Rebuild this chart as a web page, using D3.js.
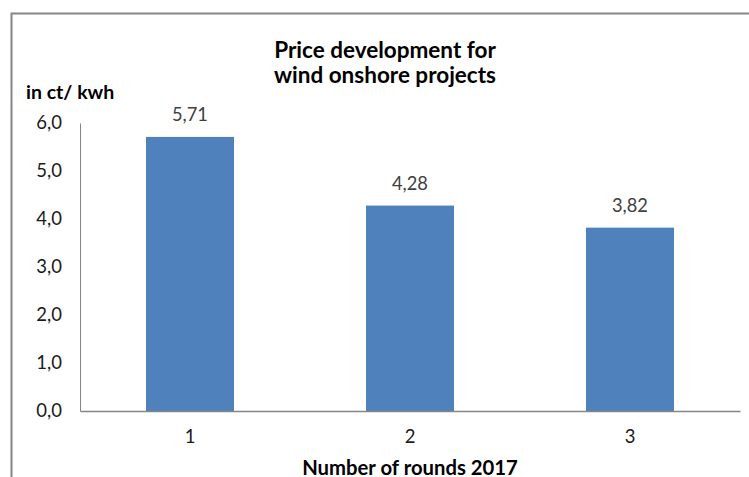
<!DOCTYPE html>
<html>
<head>
<meta charset="utf-8">
<script src="https://cdn.jsdelivr.net/npm/d3@7"></script>
<style>
  html, body { margin: 0; padding: 0; background: #fff; }
  svg { display: block; font-family: Lato, "Open Sans", sans-serif; }
</style>
</head>
<body>
<svg id="chart" width="749" height="477"></svg>
<script>
// Auction rounds and average awarded price (ct/kWh)
const rounds = ["1", "2", "3"];
const prices = [5.71, 4.28, 3.82];
const yTicks = [0, 1, 2, 3, 4, 5, 6];
const titleLines = ["Price development for", "wind onshore projects"];
const yTitle = "in ct/ kwh";
const xTitle = "Number of rounds 2017";

const svg = d3.select("#chart");
const fmt = v => v.toFixed(1).replace(".", ",");
const fmtVal = v => v.toFixed(2).replace(".", ",");

const plot = { left: 80, right: 740, top: 123, bottom: 411 };

const x = d3.scaleBand()
  .domain(rounds)
  .range([plot.left, plot.right])
  .paddingInner(0.6)
  .paddingOuter(0.3);

const y = d3.scaleLinear()
  .domain([0, 6])
  .range([plot.bottom, plot.top]);

// chart frame (top and left edges)
svg.append("path")
  .attr("d", "M11.5,477 V13.5 H749")
  .attr("fill", "none")
  .attr("stroke", "#868686")
  .attr("stroke-width", 2);

// bars
svg.append("g")
  .selectAll("rect")
  .data(prices)
  .join("rect")
  .attr("x", (d, i) => x(rounds[i]))
  .attr("y", d => y(d))
  .attr("width", x.bandwidth())
  .attr("height", d => y(0) - y(d))
  .attr("fill", "#4f81bd");

// value labels
svg.append("g")
  .selectAll("text")
  .data(prices)
  .join("text")
  .attr("x", (d, i) => x(rounds[i]) + x.bandwidth() / 2)
  .attr("y", d => y(d) - 15.5)
  .attr("text-anchor", "middle")
  .attr("font-size", 18.3)
  .attr("fill", "#404040")
  .text(fmtVal);

// y axis
const yAxis = svg.append("g")
  .attr("transform", `translate(${plot.left},0)`)
  .call(d3.axisLeft(y).tickValues(yTicks).tickFormat(fmt).tickSize(0).tickPadding(18));
yAxis.select(".domain").attr("stroke", "#868686").attr("stroke-width", 1);
yAxis.selectAll("text")
  .attr("font-family", "Lato, 'Open Sans', sans-serif")
  .attr("font-size", 18.5)
  .attr("fill", "#1a1a1a");

// x axis
const xAxis = svg.append("g")
  .attr("transform", `translate(0,${plot.bottom})`)
  .call(d3.axisBottom(x).tickSize(0).tickPadding(19));
xAxis.select(".domain").attr("stroke", "#868686").attr("stroke-width", 1.5);
xAxis.selectAll("text")
  .attr("font-family", "Lato, 'Open Sans', sans-serif")
  .attr("font-size", 18.5)
  .attr("fill", "#1a1a1a");

// two-line chart title
svg.append("text")
  .attr("x", 385)
  .attr("text-anchor", "middle")
  .attr("font-size", 22.5)
  .attr("font-weight", "bold")
  .attr("fill", "#000")
  .selectAll("tspan")
  .data(titleLines)
  .join("tspan")
  .attr("x", 385)
  .attr("y", (d, i) => 58 + i * 25)
  .text(d => d);

svg.append("text")
  .attr("x", 26)
  .attr("y", 99)
  .attr("font-size", 19.5)
  .attr("font-weight", "bold")
  .attr("fill", "#000")
  .text(yTitle);

svg.append("text")
  .attr("x", 410)
  .attr("y", 475)
  .attr("text-anchor", "middle")
  .attr("font-size", 20.3)
  .attr("font-weight", "bold")
  .attr("fill", "#000")
  .text(xTitle);
</script>
</body>
</html>
